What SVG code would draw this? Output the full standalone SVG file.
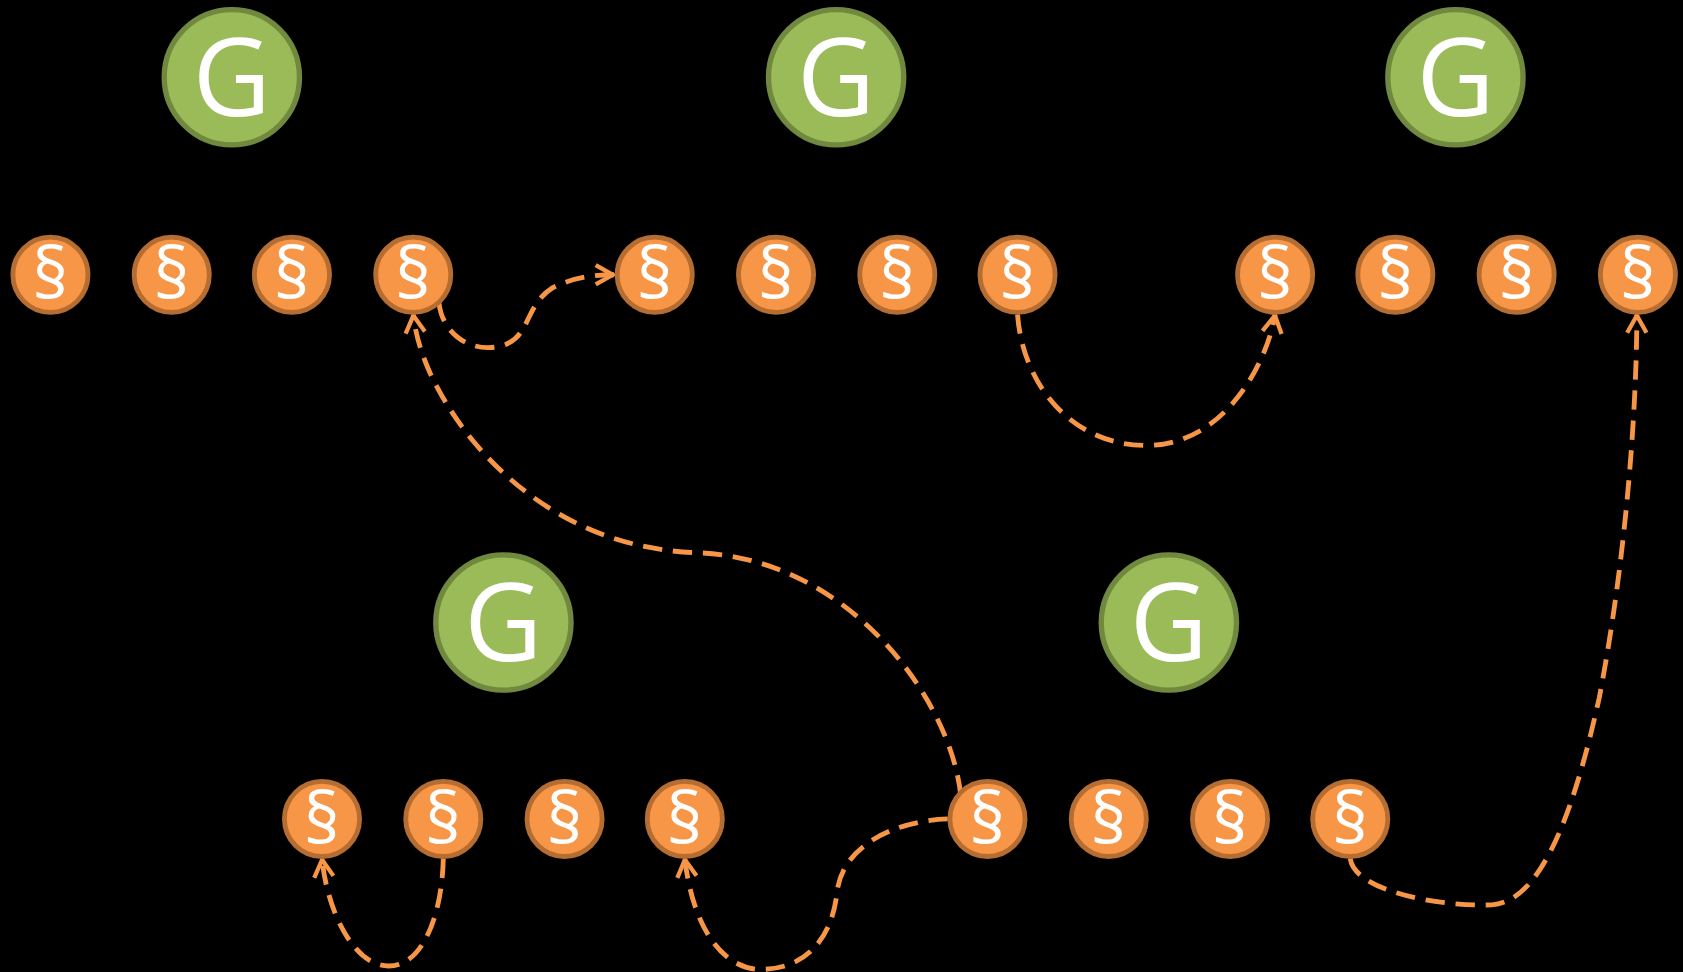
<svg xmlns="http://www.w3.org/2000/svg" width="1683" height="972" viewBox="0 0 1683 972">
<style>
.g circle{fill:#9BBB59;stroke:#71893F;stroke-width:5}
.g text{fill:#fff;font-family:"Open Sans","Liberation Sans",sans-serif;font-size:100px;text-anchor:middle}
.o circle{fill:#F79646;stroke:#B66D31;stroke-width:4.5}
.o text{fill:#fff;font-family:"Open Sans","Liberation Sans",sans-serif;font-size:66px;font-weight:500;text-anchor:middle}
.c path{fill:none;stroke:#F79646;stroke-width:4.5;stroke-dasharray:18 10}
</style>
<defs>
<marker id="a" viewBox="0 0 20 22" refX="19" refY="11" markerWidth="20" markerHeight="22" markerUnits="userSpaceOnUse" orient="auto">
<path d="M2,2 L18,11 L2,20" fill="none" stroke="#F79646" stroke-width="4"/>
</marker>
</defs>
<rect width="1683" height="972" fill="#000"/>
<g transform="scale(1.07334)">
<g id="connectors" class="c">
<path d="M409,282 C412,312 440,330 468,322 C495,314 488,285 515,268 C535,258 555,256 572,256" marker-end="url(#a)"/>
<path d="M948,293 C953,360 1000,415 1068,415 C1140,415 1180,340 1188,293" marker-end="url(#a)"/>
<path d="M895,740 C885,650 790,520 650,515 C560,512 490,470 440,410 C400,360 388,320 385,293" marker-end="url(#a)"/>
<path d="M883,763 C830,765 785,790 780,830 C775,880 745,905 705,903 C670,900 645,860 638,800" marker-end="url(#a)"/>
<path d="M413,800 C412,850 395,900 362,900 C330,900 305,850 300,800" marker-end="url(#a)"/>
<path d="M1258,800 C1262,830 1340,845 1390,843 C1440,840 1470,740 1490,650 C1515,520 1525,380 1525,293" marker-end="url(#a)"/>
</g>
<g id="g1" class="g"><circle cx="216" cy="72" r="63"/><text x="216" y="108">G</text></g>
<g id="g2" class="g"><circle cx="779" cy="72" r="63"/><text x="779" y="108">G</text></g>
<g id="g3" class="g"><circle cx="1356" cy="72" r="63"/><text x="1356" y="108">G</text></g>
<g id="g4" class="g"><circle cx="469" cy="580" r="63"/><text x="469" y="616">G</text></g>
<g id="g5" class="g"><circle cx="1089" cy="580" r="63"/><text x="1089" y="616">G</text></g>
<g id="s1" class="o"><circle cx="47" cy="256" r="35"/><text x="47" y="279">§</text></g>
<g id="s2" class="o"><circle cx="160" cy="256" r="35"/><text x="160" y="279">§</text></g>
<g id="s3" class="o"><circle cx="272" cy="256" r="35"/><text x="272" y="279">§</text></g>
<g id="s4" class="o"><circle cx="385" cy="256" r="35"/><text x="385" y="279">§</text></g>
<g id="s5" class="o"><circle cx="610" cy="256" r="35"/><text x="610" y="279">§</text></g>
<g id="s6" class="o"><circle cx="723" cy="256" r="35"/><text x="723" y="279">§</text></g>
<g id="s7" class="o"><circle cx="836" cy="256" r="35"/><text x="836" y="279">§</text></g>
<g id="s8" class="o"><circle cx="948" cy="256" r="35"/><text x="948" y="279">§</text></g>
<g id="s9" class="o"><circle cx="1188" cy="256" r="35"/><text x="1188" y="279">§</text></g>
<g id="s10" class="o"><circle cx="1300" cy="256" r="35"/><text x="1300" y="279">§</text></g>
<g id="s11" class="o"><circle cx="1413" cy="256" r="35"/><text x="1413" y="279">§</text></g>
<g id="s12" class="o"><circle cx="1526" cy="256" r="35"/><text x="1526" y="279">§</text></g>
<g id="s13" class="o"><circle cx="300" cy="763" r="35"/><text x="300" y="786">§</text></g>
<g id="s14" class="o"><circle cx="413" cy="763" r="35"/><text x="413" y="786">§</text></g>
<g id="s15" class="o"><circle cx="526" cy="763" r="35"/><text x="526" y="786">§</text></g>
<g id="s16" class="o"><circle cx="638" cy="763" r="35"/><text x="638" y="786">§</text></g>
<g id="s17" class="o"><circle cx="920" cy="763" r="35"/><text x="920" y="786">§</text></g>
<g id="s18" class="o"><circle cx="1033" cy="763" r="35"/><text x="1033" y="786">§</text></g>
<g id="s19" class="o"><circle cx="1146" cy="763" r="35"/><text x="1146" y="786">§</text></g>
<g id="s20" class="o"><circle cx="1258" cy="763" r="35"/><text x="1258" y="786">§</text></g>
</g>
</svg>
